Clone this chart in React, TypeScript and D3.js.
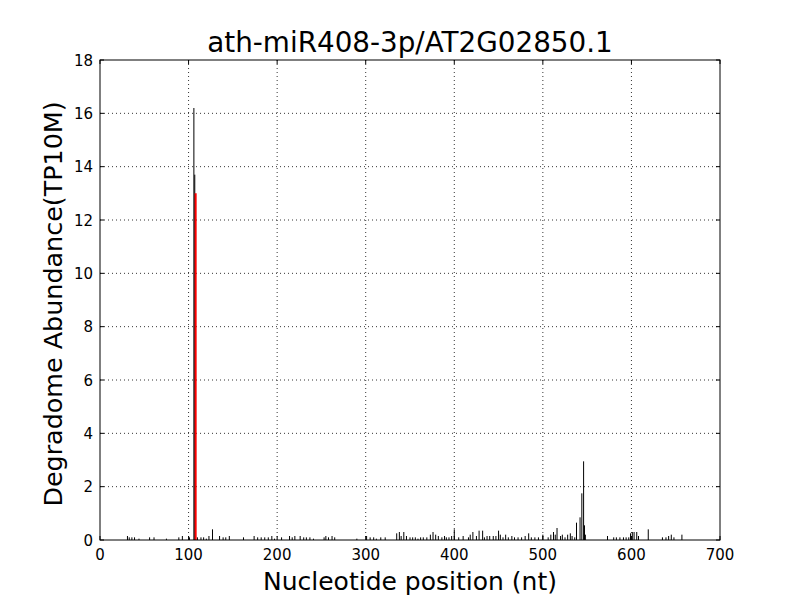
import React from "react";
import * as d3 from "d3";

const title = "ath-miR408-3p/AT2G02850.1";
const xLabel = "Nucleotide position (nt)";
const yLabel = "Degradome Abundance(TP10M)";
const xTicks = [0, 100, 200, 300, 400, 500, 600, 700];
const yTicks = [0, 2, 4, 6, 8, 10, 12, 14, 16, 18];

const positions = [
  31, 33, 36, 39, 44, 56, 61, 75, 89, 93, 101, 106, 107, 110, 114, 117, 120, 123, 127, 135, 139, 142, 146, 162, 174, 178,
  182, 186, 190, 194, 197, 205, 214, 217, 220, 226, 230, 233, 237, 241, 253, 255, 258, 262, 265, 290, 301, 305, 309, 312, 317, 322, 335, 338, 340,
  343, 346, 350, 353, 356, 359, 362, 365, 369, 373, 376, 379, 382, 386, 389, 391, 394, 397, 400, 405, 410, 416, 418, 421, 425, 428, 432, 434, 437, 440, 444, 447, 450, 452, 455, 458, 461, 465, 468, 472, 476, 480, 484, 487, 491, 495,
  500, 506, 509, 512, 514, 516, 520, 522, 525, 528, 531, 533, 536, 538, 542, 544, 546, 547, 548,
  573, 580, 583, 587, 591, 594, 597, 599, 601, 603, 606, 608, 619, 635, 639, 642, 645, 648, 657,
];
const abundances = [
  0.15, 0.1, 0.1, 0.1, 0.05, 0.1, 0.1, 0.05, 0.1, 0.15, 0.1, 16.2, 13.7, 0.1, 0.1, 0.1, 0.05, 0.15, 0.4, 0.15, 0.1, 0.1, 0.15, 0.1, 0.15, 0.1,
  0.1, 0.1, 0.1, 0.15, 0.05, 0.1, 0.15, 0.1, 0.15, 0.15, 0.1, 0.1, 0.1, 0.05, 0.1, 0.15, 0.1, 0.15, 0.1, 0.05, 0.15, 0.1, 0.1, 0.05, 0.1, 0.1, 0.25, 0.3, 0.15,
  0.3, 0.15, 0.1, 0.1, 0.1, 0.05, 0.1, 0.1, 0.1, 0.2, 0.3, 0.2, 0.15, 0.1, 0.15, 0.1, 0.1, 0.15, 0.4, 0.1, 0.15, 0.1, 0.2, 0.3, 0.15, 0.35, 0.35, 0.1, 0.15, 0.15, 0.15, 0.15, 0.35, 0.2, 0.1, 0.2, 0.1, 0.15, 0.1, 0.1, 0.1, 0.15, 0.25, 0.1, 0.1, 0.1,
  0.2, 0.1, 0.2, 0.3, 0.2, 0.45, 0.15, 0.2, 0.1, 0.2, 0.25, 0.15, 0.1, 0.65, 0.85, 1.75, 2.95, 0.55, 0.2,
  0.15, 0.1, 0.1, 0.1, 0.1, 0.1, 0.1, 0.25, 0.3, 0.3, 0.3, 0.15, 0.4, 0.1, 0.1, 0.15, 0.2, 0.1, 0.2,
];
const targetPos = [108];
const targetVal = [13.0];

export default function App() {
  const W = 800, H = 600;
  const m = { left: 100, right: 720, top: 60, bottom: 540 };
  const x = d3.scaleLinear().domain([0, 700]).range([m.left, m.right]);
  const y = d3.scaleLinear().domain([0, 18]).range([m.bottom, m.top]);
  const font = "DejaVu Sans, sans-serif";
  return (
    <svg width={W} height={H} style={{ position: "absolute", left: 0, top: 0, background: "white" }} fontFamily={font}>
      <rect x={0} y={0} width={W} height={H} fill="white" />
      {xTicks.slice(1, -1).map((t) => (
        <line key={"gx" + t} x1={x(t)} x2={x(t)} y1={m.top} y2={m.bottom} stroke="black" strokeWidth={0.8} strokeDasharray="1,3" />
      ))}
      {yTicks.slice(1, -1).map((t) => (
        <line key={"gy" + t} x1={m.left} x2={m.right} y1={y(t)} y2={y(t)} stroke="black" strokeWidth={0.8} strokeDasharray="1,3" />
      ))}
      {positions.map((p, i) => (
        <line key={"b" + i} x1={x(p)} x2={x(p)} y1={y(0)} y2={y(abundances[i])} stroke="black" strokeWidth={1} />
      ))}
      {targetPos.map((p, i) => (
        <line key={"r" + i} x1={x(p)} x2={x(p)} y1={y(0)} y2={y(targetVal[i])} stroke="red" strokeWidth={2} />
      ))}
      <rect x={m.left} y={m.top} width={m.right - m.left} height={m.bottom - m.top} fill="none" stroke="black" strokeWidth={1} />
      {xTicks.map((t) => (
        <g key={"xt" + t}>
          <line x1={x(t)} x2={x(t)} y1={m.bottom} y2={m.bottom - 4} stroke="black" />
          <line x1={x(t)} x2={x(t)} y1={m.top} y2={m.top + 4} stroke="black" />
          <text x={x(t)} y={m.bottom + 20} textAnchor="middle" fontSize={15}>{t}</text>
        </g>
      ))}
      {yTicks.map((t) => (
        <g key={"yt" + t}>
          <line x1={m.left} x2={m.left + 4} y1={y(t)} y2={y(t)} stroke="black" />
          <line x1={m.right} x2={m.right - 4} y1={y(t)} y2={y(t)} stroke="black" />
          <text x={m.left - 7} y={y(t) + 5.5} textAnchor="end" fontSize={15}>{t}</text>
        </g>
      ))}
      <text x={(m.left + m.right) / 2} y={52} textAnchor="middle" fontSize={27.8}>{title}</text>
      <text x={(m.left + m.right) / 2} y={590} textAnchor="middle" fontSize={25}>{xLabel}</text>
      <text transform={`translate(62,${(m.top + m.bottom) / 2 + 4}) rotate(-90)`} textAnchor="middle" fontSize={25.4}>{yLabel}</text>
    </svg>
  );
}
